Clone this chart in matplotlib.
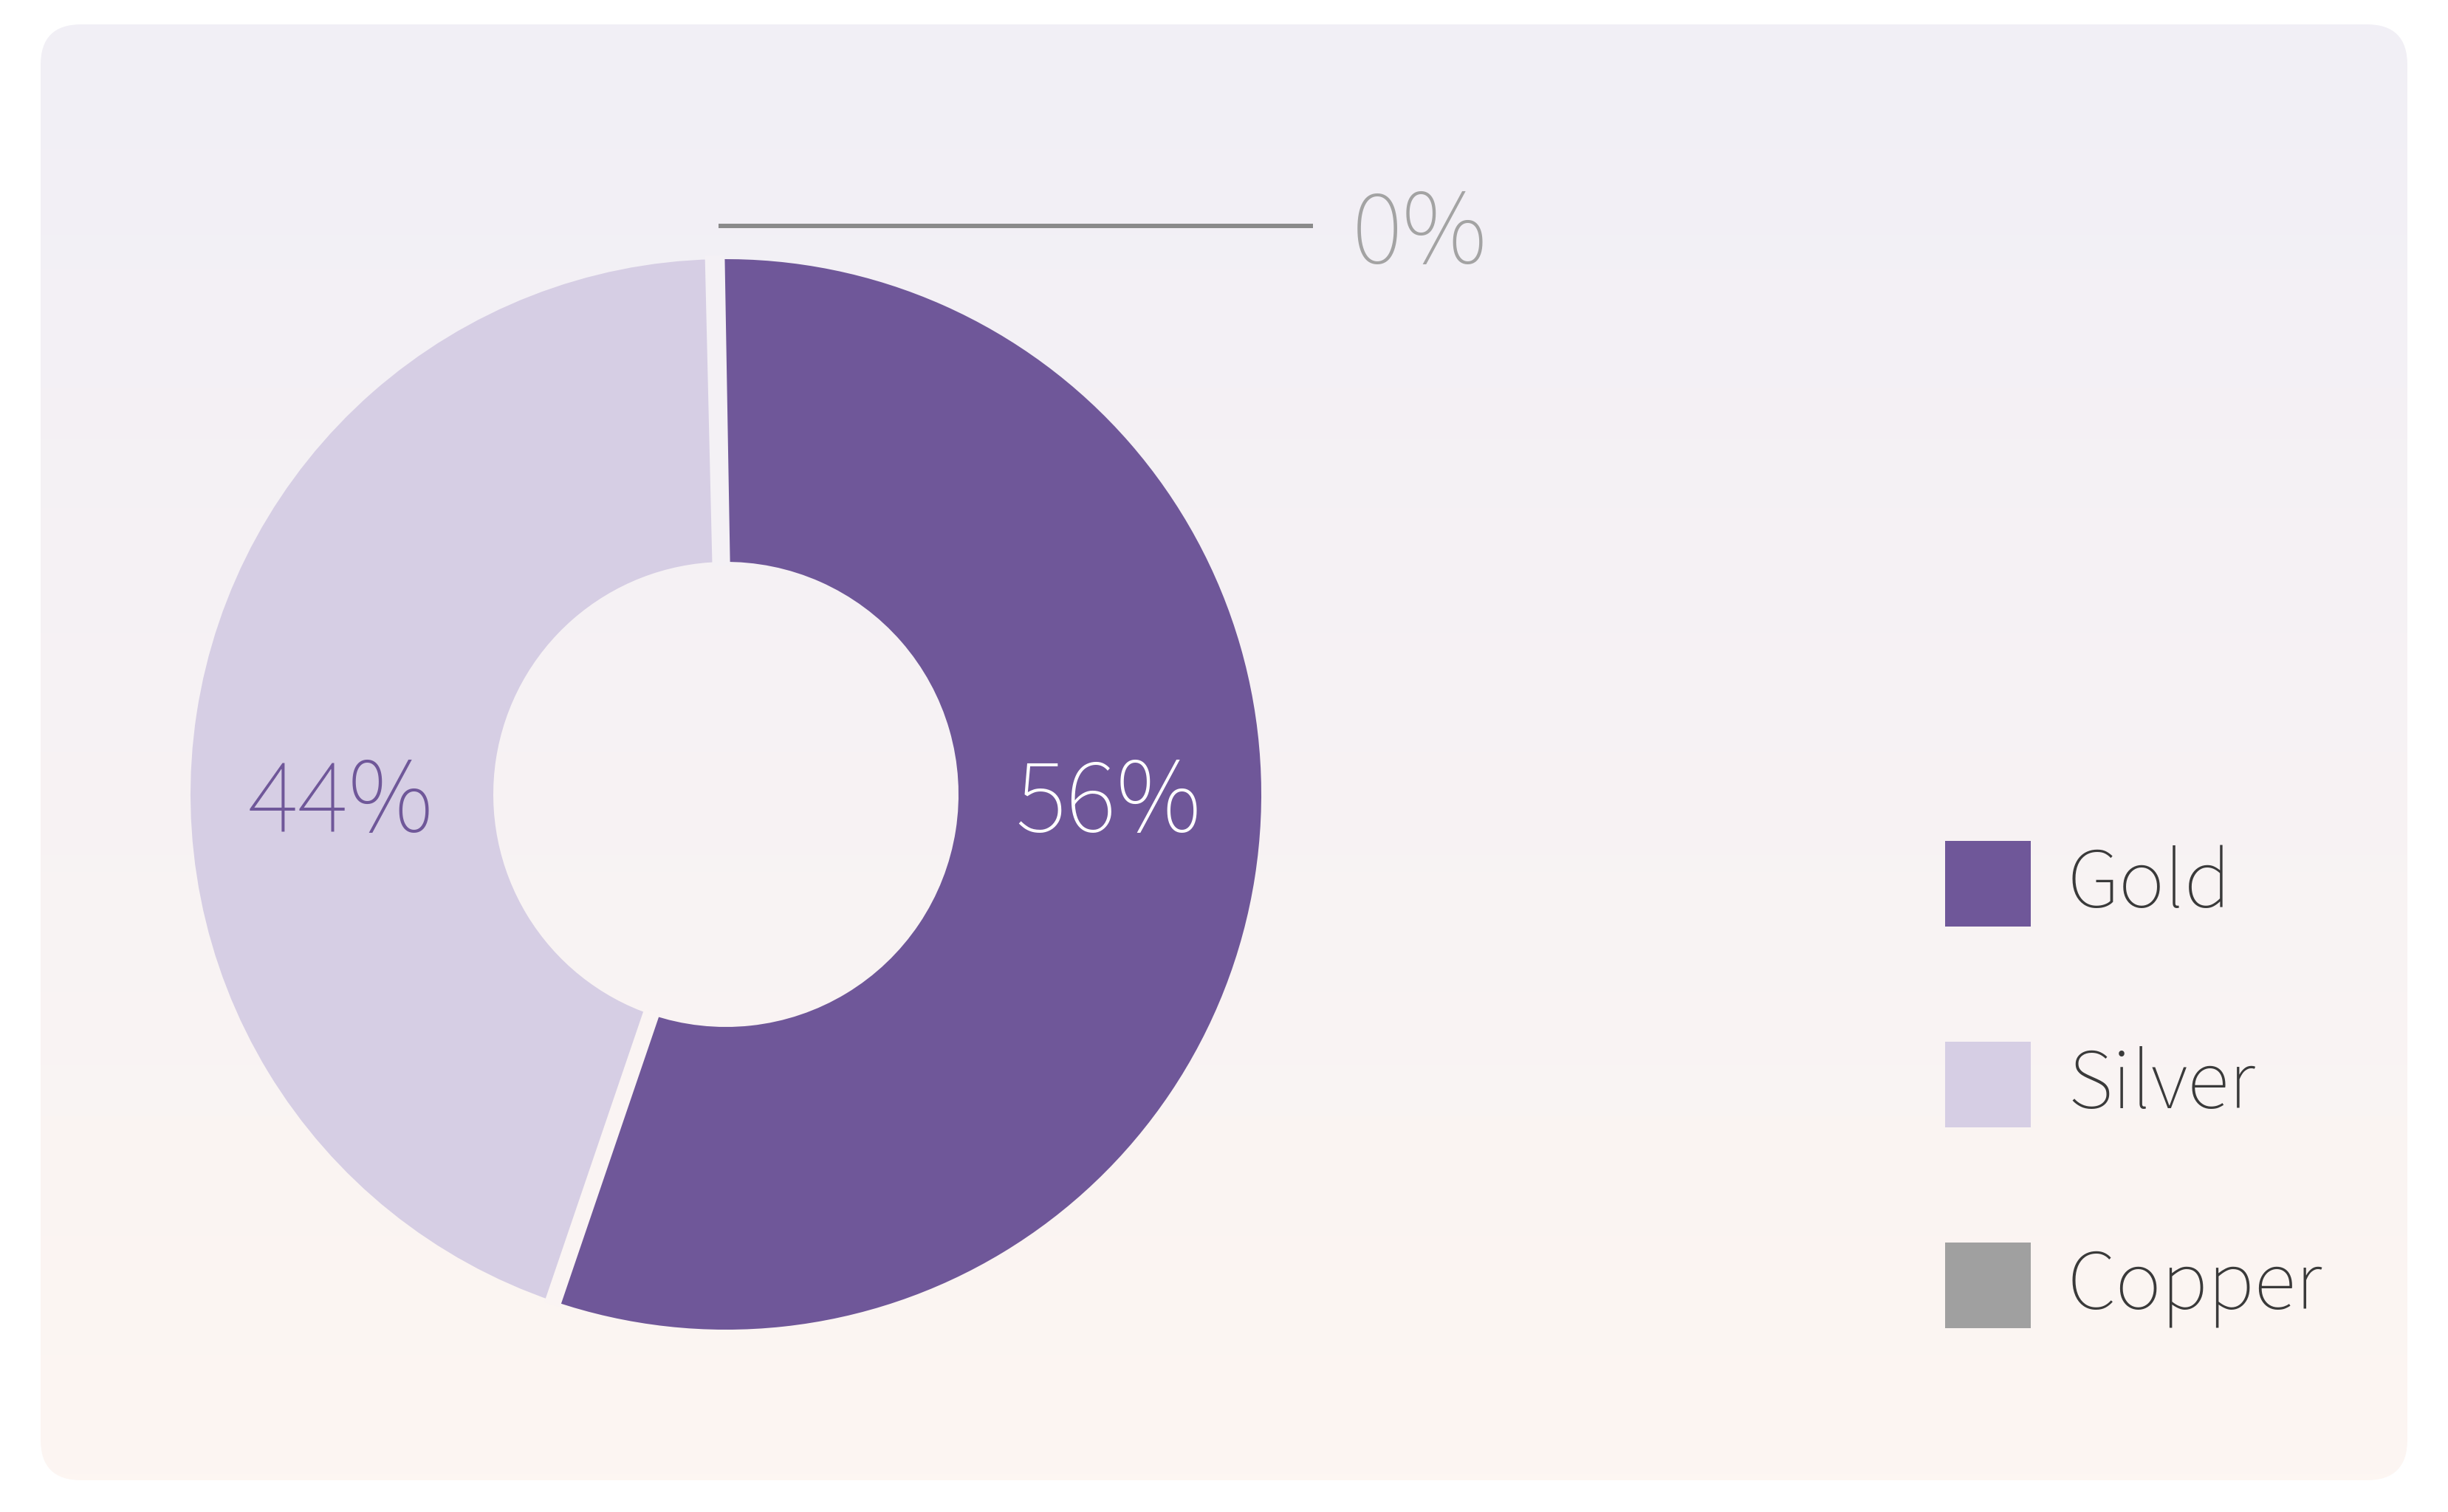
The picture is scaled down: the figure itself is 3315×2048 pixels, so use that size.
import numpy as np
import matplotlib
matplotlib.use("Agg")
from matplotlib import pyplot as plt
from matplotlib.patches import FancyBboxPatch, Rectangle

# data
metals = ["Gold", "Silver", "Copper"]
shares = [55.5, 44.4, 0.1]
colors = ["#6f5799", "#d6cee4", "#a0a0a0"]

W, H = 3315, 2048
top_col = np.array([241, 239, 246]) / 255.
bot_col = np.array([253, 246, 242]) / 255.
card_y0, card_y1 = 43, 2015   # y-up, card bottom / top


def bg_at(y):
    t = (card_y1 - y) / (card_y1 - card_y0)
    t = min(max(t, 0), 1)
    return tuple(top_col * (1 - t) + bot_col * t)


plt.rcParams['font.family'] = ['Source Sans 3', 'DejaVu Sans']
fig = plt.figure(figsize=(W / 100, H / 100), dpi=100)
fig.patch.set_facecolor("white")
ax = fig.add_axes([0, 0, 1, 1])

# background card with vertical gradient
card = FancyBboxPatch((55, card_y0), 3205, card_y1 - card_y0,
                      boxstyle="round,pad=0,rounding_size=55",
                      facecolor="none", edgecolor="none")
ax.add_patch(card)
grad = np.linspace(0, 1, 256)[:, None, None]
img = top_col[None, None, :] * (1 - grad) + bot_col[None, None, :] * grad
im = ax.imshow(img, extent=(55, 3260, card_y0, card_y1), aspect="auto",
               origin="upper", zorder=0)
im.set_clip_path(card)

# donut
cx, cy = 983, 972
r_out, r_in = 725, 315
start = 91.0
ax.pie(shares, colors=colors, startangle=start, counterclock=False,
       radius=r_out, center=(cx, cy),
       wedgeprops=dict(width=r_out - r_in, linewidth=0))

# gaps between slices
total = sum(shares)
cum = np.concatenate([[0], np.cumsum(shares)])
for c in cum[:-1]:
    th = np.radians(start - 360 * c / total)
    xs = [cx + (r_in - 5) * np.cos(th), cx + (r_out + 5) * np.cos(th)]
    ys = [cy + (r_in - 5) * np.sin(th), cy + (r_out + 5) * np.sin(th)]
    ax.plot(xs, ys, color=bg_at(np.mean(ys)), lw=16, solid_capstyle="butt",
            zorder=3)

# labels
pct = [f"{round(v / total * 100):.0f}%" for v in shares]
r_mid = (r_out + r_in) / 2
ax.text(cx + r_mid - 2, cy - 50, pct[0], color="white", fontsize=104,
        ha="center", va="baseline", zorder=4)
ax.text(cx - r_mid - 2, cy - 50, pct[1], color="#6f5799", fontsize=104,
        ha="center", va="baseline", zorder=4)

# leader for the tiny slice
th_c = np.radians(start - 360 * (cum[2] + shares[2] / 2) / total)
x0 = cx + r_out * np.cos(th_c) + 5
y_lead = cy + r_out * 1.062
ax.plot([x0, x0 + 805], [y_lead, y_lead], color="#8a8a8a", lw=4.3,
        solid_capstyle="butt", zorder=4)
ax.text(x0 + 858, y_lead - 50, pct[2], color="#a3a3a3", fontsize=104,
        ha="left", va="baseline", zorder=4)

# legend
for i, (name, col) in enumerate(zip(metals, colors)):
    yc = 851 - i * 272
    ax.add_patch(Rectangle((2634, yc - 58), 116, 116, facecolor=col,
                           edgecolor="none", zorder=4))
    ax.text(2800, yc - 32, name, color="#3a3a3a", fontsize=84,
            ha="left", va="baseline", zorder=4)

ax.set_xlim(0, W)
ax.set_ylim(0, H)
ax.set_aspect("auto")
ax.axis("off")

fig.savefig("out.png", dpi=100, facecolor=fig.get_facecolor())
